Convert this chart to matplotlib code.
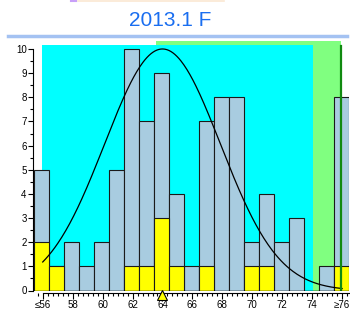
import numpy as np
import matplotlib
matplotlib.use('Agg')
import matplotlib.pyplot as plt
from matplotlib.ticker import MultipleLocator
from matplotlib.lines import Line2D

plt.rcParams['font.family'] = ['Liberation Sans', 'DejaVu Sans']

# Donnees
valeurs = np.arange(56, 77)
totaux = [5, 1, 2, 1, 2, 5, 10, 7, 9, 4, 1, 7, 8, 8, 2, 4, 2, 3, 0, 1, 8]
jaunes = [2, 1, 0, 0, 0, 0, 1, 1, 3, 1, 0, 1, 0, 0, 1, 1, 0, 0, 0, 0, 1]
ticks = [56, 58, 60, 62, 64, 66, 68, 70, 72, 74, 76]
tick_labels = ['≤56', '58', '60', '62', '64', '66', '68', '70', '72', '74', '≥76']
titre = '2013.1 F'

# Courbe normale (moyenne, ecart type, hauteur du pic)
mu, sigma, pic = 64, 3.87, 10
cible = 64
zone_verte = (63.6, 75.93)
zone_cyan = (55.95, 74.07)
limite = 75.93

fig = plt.figure(figsize=(3.5, 3.11), dpi=100)
ax = fig.add_axes([33 / 350, 20.5 / 311, 316 / 350, 249.5 / 311])
ax.set_xlim(55.35, 76.46)
ax.set_ylim(0, 10.33)

# Fonds colores
ax.axvspan(zone_verte[0], zone_verte[1], color='#80ff80', zorder=0, lw=0)
ax.fill_between([zone_cyan[0], zone_cyan[1]], 0, 10.17, color='#00ffff', zorder=1, lw=0)

# Histogramme
x = valeurs - 0.07
ax.bar(x, totaux, width=1, color='#a8cce0', edgecolor='#1a1a1a', linewidth=0.8, zorder=2)
ax.bar(x, jaunes, width=1, color='#ffff00', edgecolor='#1a1a1a', linewidth=0.8, zorder=3)

# Courbe
xc = np.linspace(56, 76, 300)
yc = pic * np.exp(-(xc - mu) ** 2 / (2 * sigma ** 2))
ax.plot(xc, yc, color='black', lw=0.9, zorder=4)

# Limite verticale
ax.plot([limite, limite], [0, 10.14], color='#108a10', lw=1.6, zorder=5)

# Ligne de base
ax.axhline(0, color='black', lw=1.0, zorder=6)

# Marqueur de la cible
ax.plot(cible, -0.2, marker='^', markersize=7, color='#ffff00', markeredgecolor='black',
        markeredgewidth=0.8, clip_on=False, zorder=7)

# Axes
for s in ['top', 'right']:
    ax.spines[s].set_visible(False)
ax.spines['left'].set_bounds(0, 10)
ax.spines['left'].set_linewidth(0.8)
ax.spines['bottom'].set_linewidth(0.8)
ax.spines['bottom'].set_position(('outward', 2))
ax.spines['bottom'].set_bounds(56, 76.46)
ax.set_yticks(range(0, 11))
ax.yaxis.set_minor_locator(MultipleLocator(0.5))
ax.set_xticks(ticks)
ax.set_xticklabels(tick_labels)
ax.xaxis.set_minor_locator(MultipleLocator(1 / 3))
ax.tick_params(axis='y', which='major', length=3.6, width=0.8, labelsize=7, pad=1)
ax.tick_params(axis='y', which='minor', length=2.2, width=0.8)
ax.tick_params(axis='x', which='major', length=4, width=0.8, labelsize=7, pad=0.5)
ax.tick_params(axis='x', which='minor', length=2.5, width=0.8)

# Titre et decorations
fig.text(170 / 350, 1 - 20 / 311, titre, color='#1a6ef0', fontsize=15, ha='center', va='center')
fig.add_artist(Line2D([8 / 350, 347 / 350], [1 - 36 / 311, 1 - 36 / 311], color='#a4c2f2', lw=2.5))
fig.add_artist(Line2D([78 / 350, 224 / 350], [1 - 0.8 / 311, 1 - 0.8 / 311], color='#fbe8d2', lw=1.2))
fig.add_artist(Line2D([71 / 350, 76 / 350], [1 - 1 / 311, 1 - 1 / 311], color='#c8a0f8', lw=1.5))

fig.savefig('out.png', dpi=100)
